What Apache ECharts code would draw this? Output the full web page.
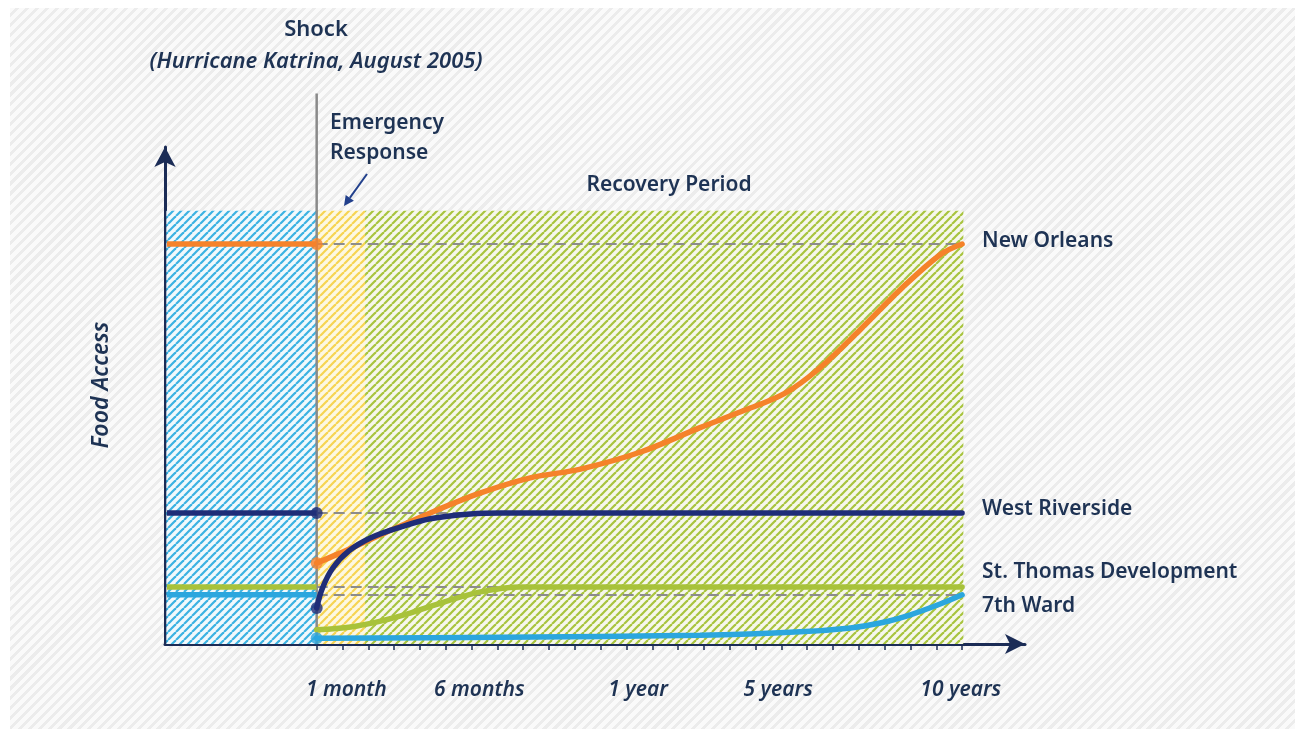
<!DOCTYPE html>
<html>
<head>
<meta charset="utf-8" />
<title>Food Access - Hurricane Katrina</title>
<script src="https://cdn.jsdelivr.net/npm/echarts@6.0.0/dist/echarts.min.js"></script>
<style>
html, body { margin: 0; padding: 0; background: #fff; }
#bg { position: absolute; left: 10px; top: 8px; right: 6px; bottom: 6px;
  background: repeating-linear-gradient(135deg, #fafafa 0px, #fafafa 4px, #ececec 4px, #ececec 7px); }
#chart { position: absolute; left: 0; top: 0; width: 1301px; height: 735px; }
</style>
</head>
<body>
<div id="bg"></div>
<div id="chart"></div>
<script type="text/javascript">
// time axis: shock = 0, 10 years = 100 ; food access: 0 .. 100
var areaNames = ['New Orleans', 'West Riverside', 'St. Thomas Development', '7th Ward'];
var areaColors = ['#f5822a', '#1f2d78', '#a8c23a', '#2ba6de'];
var levelBefore = [82.1, 26.9, 11.7, 10.1];

var newOrleans = [[0, 16.6], [3.7, 18.7], [9.9, 22.4], [17.6, 26.9], [25.4, 31.0], [33.1, 34.1],
  [40.9, 35.9], [50.2, 39.4], [59.4, 44.4], [65.6, 47.6], [72.6, 51.5], [78.0, 56.7],
  [84.2, 64.5], [90.4, 72.7], [96.6, 79.9], [100, 82.1]];
var westRiverside = [[0, 7.4], [0.9, 11.5], [2.5, 15.6], [5.0, 19.1], [8.4, 21.8], [13.0, 24.0],
  [17.6, 25.7], [23.8, 26.7], [28.5, 26.9], [100, 26.9]];
var stThomas = [[0, 2.9], [5.3, 3.5], [9.9, 4.7], [14.6, 6.4], [19.2, 8.4], [25.4, 10.7],
  [31.6, 11.7], [100, 11.7]];
var seventhWard = [[0, 1.2], [28.5, 1.4], [59.4, 1.8], [74.9, 2.5], [82.7, 3.3], [87.3, 4.3],
  [92.0, 6.0], [96.6, 8.2], [100, 10.1]];
var afterShock = [newOrleans, westRiverside, stThomas, seventhWard];

var timeLabels = ['1 month', '6 months', '1 year', '5 years', '10 years'];
var timeLabelAt = [4.6, 25.2, 49.8, 71.5, 99.8];
var tickAt = [0, 4, 8, 12, 16, 20, 24, 28, 32, 36, 40, 44, 48, 52, 56, 60, 64, 68, 72, 76, 80, 84, 88, 92, 96, 100];

var xStart = -23.5, xEnd = 109.75;
var yTop = 102;
var zoneTop = 88.9;
var emergencyEnd = 7.5;
var shockTop = 113;

var textColor = '#1e3354';
var font = "'Noto Sans', 'Open Sans', sans-serif";

function hatch(bg, fg, size, width) {
  var c = document.createElement('canvas');
  c.width = size; c.height = size;
  var g = c.getContext('2d');
  g.fillStyle = bg;
  g.fillRect(0, 0, size, size);
  g.strokeStyle = fg;
  g.lineWidth = width;
  for (var k = -1; k <= 1; k++) {
    g.beginPath();
    g.moveTo(k * size, size);
    g.lineTo(k * size + size, 0);
    g.stroke();
  }
  return { image: c, repeat: 'repeat' };
}

var blueHatch = hatch('#f2f9fc', '#3cb2e2', 8, 2.2);
var yellowHatch = hatch('#fdf8e2', '#f6d452', 8, 2.2);
var greenHatch = hatch('#f6f7ec', '#a8c43e', 8, 2.2);

var chart = echarts.init(document.getElementById('chart'));

var series = [];

// shaded periods + dashed reference levels
series.push({
  type: 'line', data: [], silent: true, z: 1,
  markArea: {
    silent: true,
    data: [
      [{ coord: [xStart + 0.2, 0], itemStyle: { color: blueHatch } }, { coord: [0, zoneTop] }],
      [{ coord: [0, 0], itemStyle: { color: yellowHatch } }, { coord: [emergencyEnd, zoneTop] }],
      [{ coord: [emergencyEnd, 0], itemStyle: { color: greenHatch } }, { coord: [100.2, zoneTop] }]
    ]
  },
  markLine: {
    silent: true, symbol: 'none',
    label: { show: false },
    lineStyle: { color: '#8c8c8c', width: 2, type: [11, 6] },
    data: levelBefore.map(function (v) { return [{ coord: [0, v] }, { coord: [100, v] }]; })
  }
});

// shock line
series.push({
  type: 'line', data: [[0, 0], [0, shockTop]], clip: false, symbol: 'none', silent: true, z: 3,
  lineStyle: { color: '#8a8a8a', width: 2.5 }
});

// before the shock
areaNames.forEach(function (name, i) {
  series.push({
    type: 'line', name: name + ' before', symbol: 'none', z: 4,
    data: [[xStart + 0.3, levelBefore[i]], [0, levelBefore[i]]],
    lineStyle: { color: areaColors[i], width: 5.5 }
  });
});

// after the shock
var labelOffsets = [[0, -3], [0, -4], [0, -15], [0, 11]];
areaNames.forEach(function (name, i) {
  series.push({
    type: 'line', name: name, symbol: 'none', smooth: 0.35, z: 5,
    data: afterShock[i],
    lineStyle: { color: areaColors[i], width: 5.5, cap: 'round' },
    endLabel: {
      show: true, formatter: name, distance: 20, offset: labelOffsets[i],
      color: textColor, fontSize: 21, fontWeight: 600, fontFamily: font
    }
  });
});

// dots at the shock
series.push({
  type: 'scatter', symbolSize: 12, z: 6, silent: true,
  data: [
    { value: [0, levelBefore[0]], itemStyle: { color: areaColors[0] } },
    { value: [0, levelBefore[1]], itemStyle: { color: areaColors[1] } },
    { value: newOrleans[0], itemStyle: { color: areaColors[0] } },
    { value: westRiverside[0], itemStyle: { color: areaColors[1] } },
    { value: seventhWard[0], itemStyle: { color: areaColors[3] } }
  ]
});

var option = {
  animation: false,
  grid: { left: 165, right: 276, top: 147, bottom: 91 },
  xAxis: {
    type: 'value', min: xStart, max: xEnd,
    splitLine: { show: false },
    axisLine: { onZero: false, lineStyle: { color: '#1b2c56', width: 3 }, symbol: ['none', 'arrow'], symbolSize: [15, 20] },
    axisTick: { show: true, customValues: tickAt, length: 6, lineStyle: { color: '#1b2c56', width: 1.5 } },
    axisLabel: {
      customValues: timeLabelAt, margin: 36,
      formatter: function (v) {
        var i = timeLabelAt.indexOf(v);
        return i >= 0 ? timeLabels[i] : '';
      },
      color: textColor, fontSize: 21, fontStyle: 'italic', fontWeight: 600, fontFamily: font
    }
  },
  yAxis: {
    type: 'value', min: 0, max: yTop,
    splitLine: { show: false },
    axisLine: { onZero: false, lineStyle: { color: '#1b2c56', width: 3 }, symbol: ['none', 'arrow'], symbolSize: [16, 20] },
    axisTick: { show: false },
    axisLabel: { show: false }
  },
  graphic: [
    { type: 'text', x: 316, y: 30, style: { text: 'Shock', fill: textColor, font: '600 22px ' + font, align: 'center', verticalAlign: 'middle' } },
    { type: 'text', x: 316, y: 62, style: { text: '(Hurricane Katrina, August 2005)', fill: textColor, font: 'italic 600 22px ' + font, align: 'center', verticalAlign: 'middle' } },
    { type: 'text', x: 330, y: 123, style: { text: 'Emergency', fill: textColor, font: '600 21px ' + font, align: 'left', verticalAlign: 'middle' } },
    { type: 'text', x: 330, y: 153, style: { text: 'Response', fill: textColor, font: '600 21px ' + font, align: 'left', verticalAlign: 'middle' } },
    { type: 'line', shape: { x1: 367, y1: 174, x2: 349.8, y2: 197.9 }, style: { stroke: '#22408c', lineWidth: 2 } },
    { type: 'polygon', shape: { points: [[344, 206], [353.9, 200.8], [345.7, 195.0]] }, style: { fill: '#22408c' } },
    { type: 'text', x: 669, y: 185, style: { text: 'Recovery Period', fill: textColor, font: '600 21px ' + font, align: 'center', verticalAlign: 'middle' } },
    { type: 'text', x: 101, y: 385, rotation: Math.PI / 2, style: { text: 'Food Access', fill: textColor, font: 'italic 600 23px ' + font, align: 'center', verticalAlign: 'middle' } }
  ],
  series: series
};

chart.setOption(option);
</script>
</body>
</html>
